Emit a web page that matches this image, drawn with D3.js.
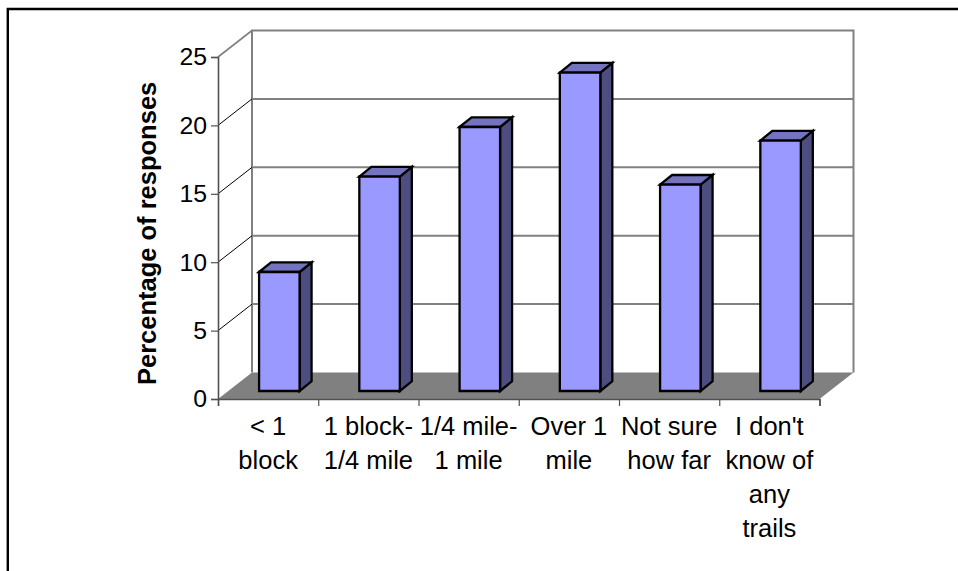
<!DOCTYPE html>
<html><head><meta charset="utf-8">
<script src="https://cdnjs.cloudflare.com/ajax/libs/d3/7.8.5/d3.min.js"></script>
<style>html,body{margin:0;padding:0;background:#fff}svg{display:block}text{font-family:"Liberation Sans",Arial,sans-serif;fill:#000}</style>
</head><body><div id="chart"></div>
<script>
const categories = ["< 1 block","1 block-1/4 mile","1/4 mile-1 mile","Over 1 mile","Not sure how far","I don't know of any trails"];
const categoryLines = [["< 1","block"],["1 block-","1/4 mile"],["1/4 mile-","1 mile"],["Over 1","mile"],["Not sure","how far"],["I don't","know of","any","trails"]];
const values = [8.7,15.67,19.3,23.27,15.08,18.3];
const yTicks = [0,5,10,15,20,25];
const yTitle = "Percentage of responses";

const W=958,H=571;
const svg=d3.select("#chart").append("svg").attr("width",W).attr("height",H);
const x0=218,x1=819.5,yB=399,yT=57,dx=34,dy=-26.5;
const x=d3.scaleBand().domain(categories).range([x0,x1]).paddingInner(0).paddingOuter(0);
const y=d3.scaleLinear().domain([0,25]).range([yB,yT]);
const barW=40.5, barDx=12, barDy=-9.7, offX=11.2, offY=-8;
const G="#808080";

// frame
svg.append("path").attr("d",`M7.8,${H}V9H${W}`).attr("fill","none").attr("stroke","#000").attr("stroke-width",2.4);

// floor
svg.append("path").attr("d",`M${x0},${yB}H${x1}L${x1+dx},${yB+dy}H${x0+dx}Z`).attr("fill",G);

// walls
svg.append("path").attr("d",`M${x0+dx},${yB+dy}V${yT+dy}H${x1+dx}V${yB+dy}`).attr("fill","none").attr("stroke",G).attr("stroke-width",2);
svg.append("line").attr("x1",x0).attr("y1",yT).attr("x2",x0+dx).attr("y2",yT+dy).attr("stroke",G).attr("stroke-width",1.6);

// gridlines
const grid=svg.append("g");
yTicks.filter(t=>t>0&&t<25).forEach(t=>{
  grid.append("line").attr("x1",x0).attr("y1",y(t)).attr("x2",x0+dx).attr("y2",y(t)+dy).attr("stroke","#000").attr("stroke-width",1);
  grid.append("line").attr("x1",x0+dx).attr("y1",y(t)+dy).attr("x2",x1+dx).attr("y2",y(t)+dy).attr("stroke",G).attr("stroke-width",2);
});

// bars
const bars=svg.append("g").selectAll("g").data(categories).join("g");
bars.each(function(c,i){
  const g=d3.select(this);
  const L=x(c)+(x.bandwidth()-barW)/2+offX, R=L+barW, b=y(0)+offY, t=y(values[i])+offY;
  const st={stroke:"#000","stroke-width":2.3,"stroke-linejoin":"miter"};
  const add=(d,f)=>{const p=g.append("path").attr("d",d).attr("fill",f);Object.entries(st).forEach(([k,v])=>p.attr(k,v));};
  add(`M${R},${b}L${R+barDx},${b+barDy}V${t+barDy}L${R},${t}Z`,"#4D4D80");
  add(`M${L},${t}L${L+barDx},${t+barDy}H${R+barDx}L${R},${t}Z`,"#7373BF");
  add(`M${L},${t}H${R}V${b}H${L}Z`,"#9999FF");
});

// axes
const yAxis=d3.axisLeft(y).tickValues(yTicks).tickSize(7).tickPadding(4);
const ya=svg.append("g").attr("transform",`translate(${x0},0)`).call(yAxis);
ya.select(".domain").attr("stroke","#505050").attr("stroke-width",1.6);
ya.selectAll(".tick line").attr("stroke","#505050").attr("stroke-width",1.2);
ya.selectAll("text").attr("font-size",24.8).attr("font-family","Liberation Sans");

const xTickPos=d3.range(categories.length+1).map(i=>x0+i*x.step());
const xs=d3.scaleLinear().domain([x0,x1]).range([x0,x1]);
const xa=svg.append("g").attr("transform",`translate(0,${yB})`).call(d3.axisBottom(xs).tickValues(xTickPos).tickSize(7).tickFormat(""));
xa.select(".domain").attr("stroke","#505050").attr("stroke-width",1.6);
xa.selectAll(".tick line").attr("stroke","#505050").attr("stroke-width",1.2);

// category labels
const lh=33.9;
categories.forEach((c,i)=>{
  const t=svg.append("text").attr("text-anchor","middle").attr("font-size",25.5);
  categoryLines[i].forEach((s,j)=>t.append("tspan").attr("x",x(c)+x.bandwidth()/2).attr("y",435+j*lh).text(s));
});

svg.append("text").attr("transform","translate(156,233.4) rotate(-90)").attr("text-anchor","middle").attr("font-size",25.5).attr("font-weight","bold").text(yTitle);
</script></body></html>
